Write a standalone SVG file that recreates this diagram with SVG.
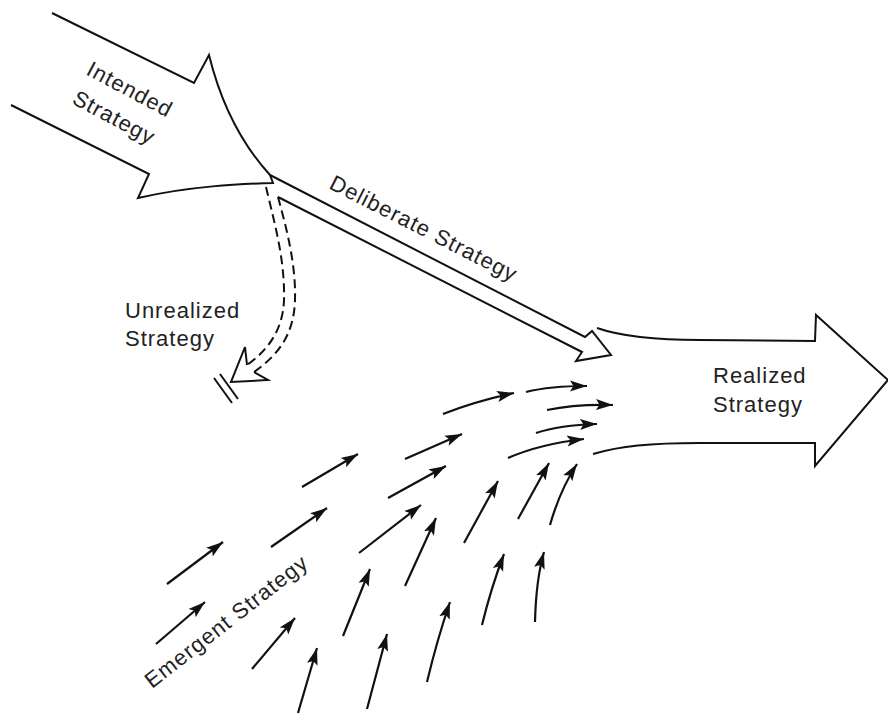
<svg xmlns="http://www.w3.org/2000/svg" width="888" height="715" viewBox="0 0 888 715">
<style>
.o{fill:none;stroke:#111;stroke-width:2;stroke-linejoin:miter;stroke-linecap:butt}
.d{fill:none;stroke:#111;stroke-width:2;stroke-dasharray:9 5}
.e{fill:none;stroke:#111;stroke-width:2.2;marker-end:url(#ah)}
.t{font-family:"Liberation Sans",Arial,sans-serif;font-size:22px;fill:#222;letter-spacing:1px}
</style>
<defs>
<marker id="ah" markerUnits="userSpaceOnUse" markerWidth="18" markerHeight="12" refX="17" refY="5.5" orient="auto" viewBox="0 0 18 11">
<path d="M0,0 L17,5.5 L0,11 L3.5,5.5 Z" fill="#111"/>
</marker>
</defs>
<rect width="888" height="715" fill="#fff"/>
<g id="intended-strategy">
<path class="o" d="M52,13 L194,83 L209,55 Q227,128 270,175 L273,183 C240,184 190,186 138,198 L149,174 L11,105"/>
<text class="t" transform="translate(85,74) rotate(28)">Intended</text>
<text class="t" transform="translate(71,103) rotate(28)">Strategy</text>
</g>
<g id="realized-strategy">
<path class="o" d="M597,328 C620,336 650,340 700,340 L815,341 L816,315 L888,380 L815,466 L815,443 L700,443 C650,443 620,446 593,454"/>
<text class="t" x="713" y="383">Realized</text>
<text class="t" x="713" y="412">Strategy</text>
</g>
<g id="connectors">
<g id="deliberate-strategy">
<path class="o" d="M270,175 L585,337 L592,331 L611,355 L576,361 L582,352 L278,197"/>
<text class="t" transform="translate(328,188) rotate(27)">Deliberate Strategy</text>
</g>
<g id="unrealized-strategy">
<path class="d" d="M266,187 C275,225 285,260 284,300 C283,330 268,350 247,365"/>
<path class="d" d="M278,197 C287,230 296,265 295,300 C294,335 278,355 254,372"/>
<path class="o" d="M247,365 L245,347 L231,382 L268,380 L254,372"/>
<path class="o" d="M214,378 L232,403 M220,374 L238,399"/>
<text class="t" x="125" y="318">Unrealized</text>
<text class="t" x="125" y="346">Strategy</text>
</g>
<g id="emergent-strategy">
<path class="e" d="M167,584 L223,542"/>
<path class="e" d="M156,644 L205,602"/>
<path class="e" d="M271,547 L327,508"/>
<path class="e" d="M302,487 L358,454"/>
<path class="e" d="M252,669 L295,618"/>
<path class="e" d="M343,636 L370,569"/>
<path class="e" d="M359,553 L421,505"/>
<path class="e" d="M388,498 L446,466"/>
<path class="e" d="M405,459 L462,434"/>
<path class="e" d="M443,414 Q476,401 514,393"/>
<path class="e" d="M526,392 Q550,386 587,386"/>
<path class="e" d="M547,410 Q575,404 613,405"/>
<path class="e" d="M536,433 Q560,425 597,424"/>
<path class="e" d="M508,458 Q540,444 584,439"/>
<path class="e" d="M405,586 L436,518"/>
<path class="e" d="M464,543 L498,481"/>
<path class="e" d="M518,519 L549,463"/>
<path class="e" d="M550,525 Q560,490 577,464"/>
<path class="e" d="M298,713 L317,648"/>
<path class="e" d="M367,709 L387,634"/>
<path class="e" d="M427,682 Q437,640 450,602"/>
<path class="e" d="M482,625 Q491,588 504,554"/>
<path class="e" d="M535,622 Q536,580 544,552"/>
<text class="t" transform="translate(152,689) rotate(-38)">Emergent Strategy</text>
</g>
</g>
</svg>
